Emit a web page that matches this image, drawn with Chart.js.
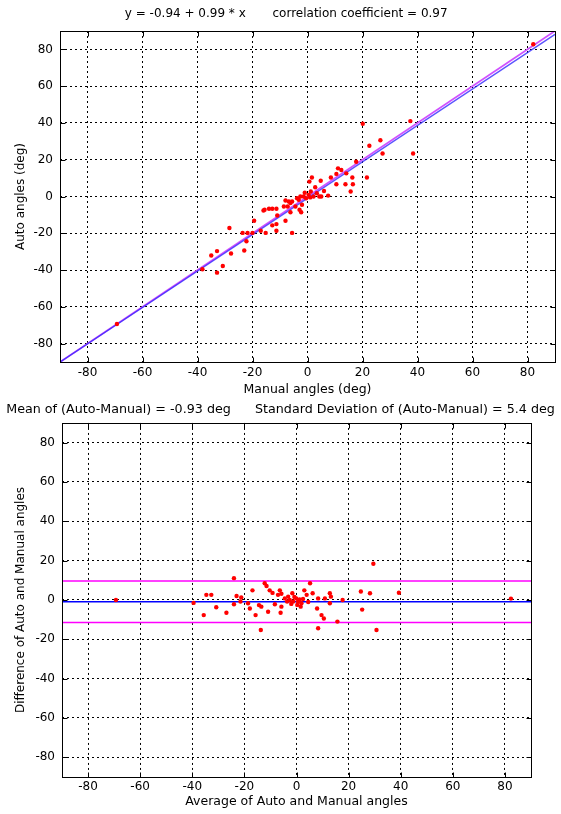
<!DOCTYPE html>
<html><head><meta charset="utf-8">
<script src="https://cdn.jsdelivr.net/npm/chart.js@4"></script>
<style>
html,body{margin:0;padding:0;background:#fff;}
body{width:561px;height:814px;position:relative;overflow:hidden;}
#wrap1{position:absolute;left:0;top:0;width:561px;height:400px;}
#wrap2{position:absolute;left:0;top:400px;width:561px;height:414px;}
canvas{display:block;}
</style></head><body>
<div id="wrap1"><canvas id="c1" width="561" height="400"></canvas></div>
<div id="wrap2"><canvas id="c2" width="561" height="414"></canvas></div>
<script>
// ---- tick labels / axis range ----
const tickValues = [-80, -60, -40, -20, 0, 20, 40, 60, 80];
const axisMin = -90, axisMax = 90;

// ---- top chart: Manual vs Auto angles (deg) ----
const manualAngles = [-69.3, 82.1, 20.1, 37.4, 38.4, 22.5, 26.5, 27.3, 17.7, 21.6,
  11.1, 12.3, 10.5, 14.1, 16.3, 10.5, 13.8, 16.5, 15.7, 8.5,
  4.8, 1.6, 0.7, 2.8, 3.4, 4.3, 2.2, 1.2, 0.4, -1.4,
  -2.6, -3.2, -3.8, -2.0, -2.9, -4.4, -5.6, -6.2, -6.8, -8.0,
  -8.6, -7.2, -6.2, -8.0, -5.6, -2.3, -15.6, -16.0, -14.0, -12.8,
  -11.3, -11.0, -12.8, -11.3, -11.3, -19.4, -20.0, -21.8, -23.6, -22.2,
  -23.0, -17.0, -15.2, -28.4, -35.0, -32.9, -32.9, -30.8, -27.8, -38.2,
  6.0, -0.5, 1.0, 7.5, 5.0, -1.0];
const autoAngles = [-69.3, 82.8, 39.6, 41.0, 23.4, 27.6, 30.6, 23.4, 18.9, 10.3,
  15.3, 14.4, 12.3, 12.6, 10.3, 6.7, 6.7, 6.7, 2.7, 10.3,
  8.6, 10.3, 8.1, 5.0, 1.8, 0.0, 0.0, 2.7, 0.9, 0.0,
  0.0, -1.8, -0.9, -4.5, -7.2, -5.4, -2.7, -3.6, -2.7, -2.2,
  -5.4, -5.4, -8.6, -13.2, -19.8, -8.6, -7.2, -7.6, -6.7, -6.7,
  -6.7, -10.3, -15.7, -15.0, -18.6, -13.2, -19.8, -19.8, -19.8, -24.3,
  -29.4, -18.6, -19.8, -17.1, -32.1, -29.7, -41.4, -37.8, -31.0, -39.6,
  3.0, -1.0, -0.5, 0.5, 0.0, 2.0];
const fitIntercept = -0.94;
const fitSlope = 0.99;

// ---- bottom chart: Bland-Altman ----
const avgAngles = [-69.3, 82.3, -24.0, -35.6, -34.6, -32.7, -30.8, -26.9, -24.0, -23.0,
  -21.2, -21.5, -18.6, -17.9, -16.9, -15.7, -13.7, -14.4, -13.5, -12.2,
  -11.5, -10.3, -9.2, -10.9, -8.3, -7.1, -5.8, -6.1, -6.4, -5.8,
  -4.5, -3.6, -2.6, -1.6, -1.3, -3.2, -0.1, 0.6, 1.2, 1.9,
  1.6, 3.0, 3.9, 5.2, 6.2, 7.9, 8.3, 9.6, 10.5, 10.9,
  12.8, 13.2, 8.3, 12.8, 15.7, 17.7, 24.7, 28.2, 25.2, 29.5,
  30.7, 39.3, -0.8, 2.5, 4.5, -2.0, 0.3, -39.5];
const diffAngles = [0.0, 0.7, 11.1, -7.7, 2.6, 2.6, -3.7, -6.5, -2.2, 2.0,
  1.3, -0.8, -1.7, -4.3, 4.9, -7.7, -15.3, -2.6, -3.4, 8.5,
  7.1, 4.9, 3.6, -6.0, -2.2, 2.6, -3.4, -6.5, 4.9, 3.2,
  0.8, -0.8, 0.0, 3.4, -0.8, 1.7, 0.8, -0.8, 0.3, -1.7,
  -3.4, 4.9, 2.6, 8.5, 3.4, -4.3, 0.8, -7.7, -9.4, 0.8,
  3.4, 1.7, -14.4, -1.7, -11.0, 0.0, 4.3, 3.4, -4.9, 18.4,
  -15.3, 3.7, 1.5, 0.5, -1.0, -2.0, -2.5, -1.5];
const meanDiff = -0.93;
const upperLimit = 9.65;
const lowerLimit = -11.51;

const FONT = 'DejaVu Sans';

const boxPlugin = {
  id: 'box',
  afterDraw(chart) {
    const {ctx, chartArea: a, scales: {x, y}} = chart;
    ctx.save();
    ctx.strokeStyle = '#000';
    ctx.lineWidth = 1;
    ctx.setLineDash([]);
    const l = Math.round(a.left) + 0.5, r = Math.round(a.right) + 0.5;
    const t = Math.round(a.top) + 0.5, b = Math.round(a.bottom) + 0.5;
    ctx.strokeRect(l, t, r - l, b - t);
    const L = 5;
    ctx.beginPath();
    tickValues.forEach(v => {
      const px = Math.round(x.getPixelForValue(v)) + 0.5;
      ctx.moveTo(px, b); ctx.lineTo(px, b - L);
      ctx.moveTo(px, t); ctx.lineTo(px, t + L);
      const py = Math.round(y.getPixelForValue(v)) + 0.5;
      ctx.moveTo(l, py); ctx.lineTo(l + L, py);
      ctx.moveTo(r, py); ctx.lineTo(r - L, py);
    });
    ctx.stroke();
    ctx.restore();
  }
};

function makeScales(xTitle, yTitle, yWidth, xHeight, xTickPad, xTitlePad, yTitlePad, rightWidth) {
  const base = () => ({
    type: 'linear', min: axisMin, max: axisMax,
    afterBuildTicks: s => { s.ticks = tickValues.map(v => ({value: v})); },
    grid: {color: '#000', lineWidth: 1, drawTicks: false},
    border: {display: false, dash: [2, 3]},
  });
  const tickFont = {family: FONT, size: 12};
  return {
    x: Object.assign(base(), {
      position: 'bottom',
      ticks: {color: '#000', font: tickFont, padding: xTickPad, autoSkip: false, maxRotation: 0},
      title: {display: true, text: xTitle, color: '#000', font: {family: FONT, size: 12.5}, padding: {top: 0, bottom: xTitlePad}},
      afterFit: s => { s.height = xHeight; }
    }),
    y: Object.assign(base(), {
      position: 'left',
      ticks: {color: '#000', font: tickFont, padding: 7, autoSkip: false},
      title: {display: true, text: yTitle, color: '#000', font: {family: FONT, size: 12}, padding: {top: yTitlePad, bottom: 0}},
      afterFit: s => { s.width = yWidth; }
    }),
    yr: {
      type: 'linear', position: 'right', min: axisMin, max: axisMax, display: true,
      ticks: {display: false}, grid: {display: false, drawTicks: false}, border: {display: false},
      afterFit: s => { s.width = rightWidth; }
    }
  };
}

// top chart
new Chart(document.getElementById('c1'), {
  type: 'scatter',
  data: {
    datasets: [
      {
        data: manualAngles.map((m, i) => ({x: m, y: autoAngles[i]})),
        backgroundColor: '#ff0000', borderWidth: 0, pointRadius: 2.2, order: 0
      },
      {
        type: 'line',
        data: [axisMin, axisMax].map(v => ({x: v, y: fitIntercept + fitSlope * v})),
        borderColor: 'rgba(50,40,255,0.8)', borderWidth: 1.4, pointRadius: 0, fill: false, order: 1
      },
      {
        type: 'line',
        data: [axisMin, axisMax].map(v => ({x: v, y: v})),
        borderColor: '#d050ff', borderWidth: 1.8, pointRadius: 0, fill: false, order: 2
      }
    ]
  },
  options: {
    responsive: false, animation: false,
    layout: {padding: 0},
    plugins: {
      legend: {display: false}, tooltip: {enabled: false},
      title: {display: true, text: '   y = -0.94 + 0.99 * x       correlation coefficient = 0.97',
        color: '#000', font: {family: FONT, size: 12, weight: 'normal'}, padding: {top: 7, bottom: 9.6}}
    },
    scales: makeScales('Manual angles (deg)', 'Auto angles (deg)', 60, 38, 4, 3, 14, 6)
  },
  plugins: [boxPlugin]
});

// bottom chart
new Chart(document.getElementById('c2'), {
  type: 'scatter',
  data: {
    datasets: [
      {
        data: avgAngles.map((m, i) => ({x: m, y: diffAngles[i]})),
        backgroundColor: '#ff0000', borderWidth: 0, pointRadius: 2.2, order: 0
      },
      {
        type: 'line',
        data: [axisMin, axisMax].map(v => ({x: v, y: meanDiff})),
        borderColor: '#0000ff', borderWidth: 1.5, pointRadius: 0, fill: false, order: 1
      },
      {
        type: 'line',
        data: [axisMin, axisMax].map(v => ({x: v, y: upperLimit})),
        borderColor: '#ff00ff', borderWidth: 1.5, pointRadius: 0, fill: false, order: 2
      },
      {
        type: 'line',
        data: [axisMin, axisMax].map(v => ({x: v, y: lowerLimit})),
        borderColor: '#ff00ff', borderWidth: 1.5, pointRadius: 0, fill: false, order: 2
      }
    ]
  },
  options: {
    responsive: false, animation: false,
    layout: {padding: 0},
    plugins: {
      legend: {display: false}, tooltip: {enabled: false},
      title: {display: true, text: 'Mean of (Auto-Manual) = -0.93 deg      Standard Deviation of (Auto-Manual) = 5.4 deg',
        color: '#000', font: {family: FONT, size: 12.7, weight: 'normal'}, padding: {top: 2.2, bottom: 5.5}}
    },
    scales: makeScales('Average of Auto and Manual angles', 'Difference of Auto and Manual angles', 62, 37, 3, 5, 14, 30)
  },
  plugins: [boxPlugin]
});
</script>
</body></html>
